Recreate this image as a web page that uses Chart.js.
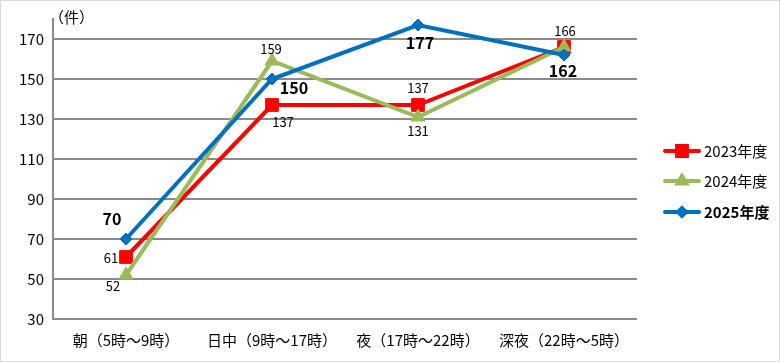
<!DOCTYPE html>
<html>
<head>
<meta charset="utf-8">
<script src="https://cdn.jsdelivr.net/npm/chart.js@4"></script>
<style>
    html, body { margin: 0; padding: 0; background: #fff; }
    #wrap { width: 778px; height: 360px; border: 1px solid #d9d9d9; position: relative; }
</style>
</head>
<body>
<div id="wrap"><canvas id="chartHoras" width="778" height="360"></canvas></div>
<script>
const FUENTE = "'Noto Sans CJK JP', 'Noto Sans', sans-serif";

const categorias = ['朝（5時～9時）', '日中（9時～17時）', '夜（17時～22時）', '深夜（22時～5時）'];
const series = ['2023年度', '2024年度', '2025年度'];
const valores2023 = [61, 137, 137, 166];
const valores2024 = [52, 159, 131, 166];
const valores2025 = [70, 150, 177, 162];
const yTicks = [30, 50, 70, 90, 110, 130, 150, 170];

// etiquetas visibles por serie (false = oculta por solapamiento)
const mostrar2023 = [true, true, true, true];
const mostrar2024 = [true, true, true, false];
const mostrar2025 = [true, true, true, true];

// desplazamiento de cada etiqueta respecto al punto (estilo, no datos)
const offsets = [
    [[-15, 1], [11, 17], [0, -17], [1, -16]],
    [[-13, 11], [-1, -12], [0, 14], [0, 0]],
    [[-14, -20], [22, 9], [2, 18], [-1, 16]]
];

const colores = ['#ff0000', '#9bbb59', '#0070c0'];
const marcadores = ['rect', 'triangle', 'rectRot'];
const radios = [9, 8, 6];
const radiosLeyenda = [7, 5, 4];

const etiquetasPlugin = {
    id: 'etiquetas',
    afterDatasetsDraw(chart) {
        const ctx = chart.ctx;
        const visibles = [mostrar2023, mostrar2024, mostrar2025];
        ctx.save();
        ctx.textAlign = 'center';
        ctx.textBaseline = 'middle';
        chart.data.datasets.forEach((ds, i) => {
            const meta = chart.getDatasetMeta(i);
            ctx.font = i === 2 ? `bold 16px ${FUENTE}` : `13px ${FUENTE}`;
            ctx.fillStyle = '#000';
            meta.data.forEach((pt, j) => {
                if (!visibles[i][j]) return;
                ctx.fillText(String(ds.data[j]), pt.x + offsets[i][j][0], pt.y + offsets[i][j][1]);
            });
        });
        ctx.restore();
    },
    afterDraw(chart) {
        const ctx = chart.ctx;
        const area = chart.chartArea;
        ctx.save();
        // unidad
        ctx.font = `15px ${FUENTE}`;
        ctx.fillStyle = '#000';
        ctx.textBaseline = 'middle';
        ctx.textAlign = 'left';
        ctx.fillText('（件）', area.left - 4, 16);
        // leyenda
        const ys = [150, 180, 211];
        series.forEach((nombre, i) => {
            const y = ys[i];
            ctx.strokeStyle = colores[i];
            ctx.lineWidth = 4;
            ctx.lineCap = 'round';
            ctx.beginPath();
            ctx.moveTo(664, y);
            ctx.lineTo(698, y);
            ctx.stroke();
            ctx.fillStyle = colores[i];
            Chart.helpers.drawPoint(ctx, {
                pointStyle: marcadores[i],
                radius: radiosLeyenda[i],
                borderWidth: 1
            }, 681, y);
            ctx.fillStyle = '#000';
            ctx.font = (i === 2 ? 'bold ' : '') + `15px ${FUENTE}`;
            ctx.fillText(nombre, 703, y);
        });
        ctx.restore();
    }
};

const datos = [valores2023, valores2024, valores2025];

new Chart(document.getElementById('chartHoras').getContext('2d'), {
    type: 'line',
    data: {
        labels: categorias,
        datasets: series.map((s, i) => ({
            label: s,
            data: datos[i],
            borderColor: colores[i],
            backgroundColor: colores[i],
            borderWidth: 4,
            pointStyle: marcadores[i],
            pointRadius: radios[i],
            pointBorderWidth: 1,
            tension: 0,
            clip: false,
            order: 3 - i
        }))
    },
    options: {
        responsive: false,
        animation: false,
        devicePixelRatio: 1,
        layout: { padding: { top: 18, right: 142, left: 0, bottom: 0 } },
        plugins: {
            legend: { display: false },
            tooltip: { enabled: false }
        },
        scales: {
            x: {
                offset: true,
                grid: { display: false, drawTicks: false },
                border: { display: false },
                ticks: { color: '#000', font: { family: FUENTE, size: 15 }, padding: 12, maxRotation: 0 },
                afterFit: s => { s.height = 42; }
            },
            y: {
                min: 30,
                max: 180,
                afterBuildTicks: s => { s.ticks = yTicks.map(v => ({ value: v })); },
                grid: { color: '#8a8a8a', lineWidth: 2, drawTicks: false },
                border: { display: true, color: '#8a8a8a', width: 2 },
                ticks: { color: '#000', font: { family: FUENTE, size: 15 }, padding: 9 },
                afterFit: s => { s.width = 52; }
            }
        }
    },
    plugins: [etiquetasPlugin]
});
</script>
</body>
</html>
